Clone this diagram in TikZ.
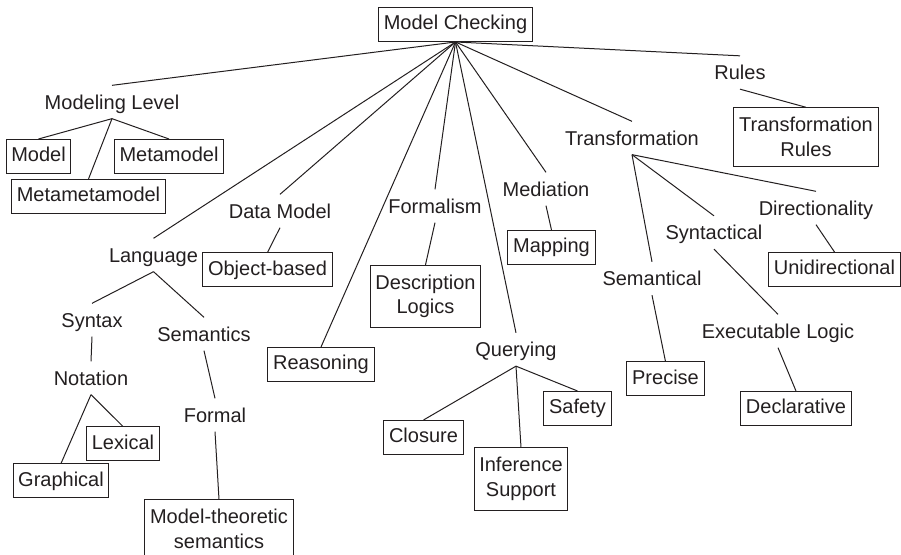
\documentclass[tikz,border=0pt]{standalone}
\usepackage{fontspec}
\setmainfont{Liberation Sans}
\definecolor{ink}{RGB}{35,31,32}
\tikzset{every picture/.style={line width=0.75pt}}
\tikzset{
  lbl/.style={inner xsep=2pt, inner ysep=6.75pt, text height=10.75pt, text depth=0pt, text=ink, font=\fontsize{15}{18}\selectfont},
  cbox/.style={draw=ink, inner xsep=3.9pt, inner ysep=5.7pt, text height=10.9pt, text depth=3.2pt, text=ink, font=\fontsize{15}{18}\selectfont},
  tbox/.style={draw=ink, align=center, inner xsep=3.9pt, inner ysep=7.2pt, text=ink, font=\fontsize{15}{18.4}\selectfont},
}

\begin{document}
\begin{tikzpicture}[x=0.75pt,y=0.75pt,yscale=-1,xscale=1]
\useasboundingbox (0,0) rectangle (901,555);
\clip (0,0) rectangle (901,555);

% Root
\node [cbox] (mc) at (455.5,24.5) {Model Checking};

% Modeling level
\node [lbl] (modlev) at (112,102) {Modeling Level};
\node [cbox] (model) at (38.5,156.5) {Model};
\node [cbox] (metamodel) at (169,156.5) {Metamodel};
\node [cbox] (metameta) at (88.5,196.5) {Metametamodel};

% Language
\node [lbl] (lang) at (153.5,255) {Language};
\node [lbl] (syntax) at (92,320) {Syntax};
\node [lbl] (semantics) at (204,334) {Semantics};
\node [lbl] (notation) at (91,378) {Notation};
\node [cbox] (lexical) at (123,444) {Lexical};
\node [cbox] (graphical) at (61,481) {Graphical};
\node [lbl] (formal) at (215,415) {Formal};
\node [tbox] (mts) at (219,529) {Model-theoretic\\semantics};

% Data model, formalism, reasoning
\node [lbl] (datamodel) at (280,211) {Data Model};
\node [cbox] (objbased) at (267.5,270) {Object-based};
\node [lbl] (formalism) at (435,206) {Formalism};
\node [tbox] (desclog) at (425.5,296.5) {Description\\Logics};
\node [cbox] (reasoning) at (321,364.5) {Reasoning};

% Mediation, querying
\node [lbl] (mediation) at (546,189) {Mediation};
\node [cbox] (mapping) at (551.5,247.5) {Mapping};
\node [lbl] (querying) at (516,349.5) {Querying};
\node [cbox] (closure) at (423.5,437.5) {Closure};
\node [tbox] (infsup) at (521,479) {Inference\\Support};
\node [cbox] (safety) at (577.5,408.5) {Safety};

% Rules, transformation
\node [lbl] (rules) at (740,72.5) {Rules};
\node [tbox] (trrules) at (806,137) {Transformation\\Rules};
\node [lbl] (trans) at (632,138) {Transformation};
\node [lbl] (direct) at (816,208) {Directionality};
\node [cbox] (unidir) at (834.5,269.5) {Unidirectional};
\node [lbl] (syntact) at (714,232.5) {Syntactical};
\node [lbl] (execlog) at (778,331) {Executable Logic};
\node [cbox] (declar) at (796,408.5) {Declarative};
\node [lbl] (semantical) at (652,278.5) {Semantical};
\node [cbox] (precise) at (665.5,379) {Precise};

%Straight Lines from the root
\draw [ink] (mc.south) -- (modlev.north);
\draw [ink] (mc.south) -- (lang.north);
\draw [ink] (mc.south) -- (datamodel.north);
\draw [ink] (mc.south) -- (reasoning.north);
\draw [ink] (mc.south) -- (formalism.north);
\draw [ink] (mc.south) -- (querying.north);
\draw [ink] (mc.south) -- (mediation.north);
\draw [ink] (mc.south) -- (trans.north);
\draw [ink] (mc.south) -- (rules.north);

%Straight Lines
\draw [ink] (modlev.south) -- (model.north);
\draw [ink] (modlev.south) -- (metameta.north);
\draw [ink] (modlev.south) -- (metamodel.north);
\draw [ink] (lang.south) -- (syntax.north);
\draw [ink] (lang.south) -- (semantics.north);
\draw [ink] (syntax.south) -- (notation.north);
\draw [ink] (notation.south) -- (graphical.north);
\draw [ink] (notation.south) -- (lexical.north);
\draw [ink] (semantics.south) -- (formal.north);
\draw [ink] (formal.south) -- (mts.north);
\draw [ink] (datamodel.south) -- (objbased.north);
\draw [ink] (formalism.south) -- (desclog.north);
\draw [ink] (mediation.south) -- (mapping.north);
\draw [ink] (querying.south) -- (closure.north);
\draw [ink] (querying.south) -- (infsup.north);
\draw [ink] (querying.south) -- (safety.north);
\draw [ink] (rules.south) -- (trrules.north);
\draw [ink] (trans.south) -- (semantical.north);
\draw [ink] (trans.south) -- (syntact.north);
\draw [ink] (trans.south) -- (direct.north);
\draw [ink] (direct.south) -- (unidir.north);
\draw [ink] (syntact.south) -- (execlog.north);
\draw [ink] (execlog.south) -- (declar.north);
\draw [ink] (semantical.south) -- (precise.north);

\end{tikzpicture}
\end{document}
